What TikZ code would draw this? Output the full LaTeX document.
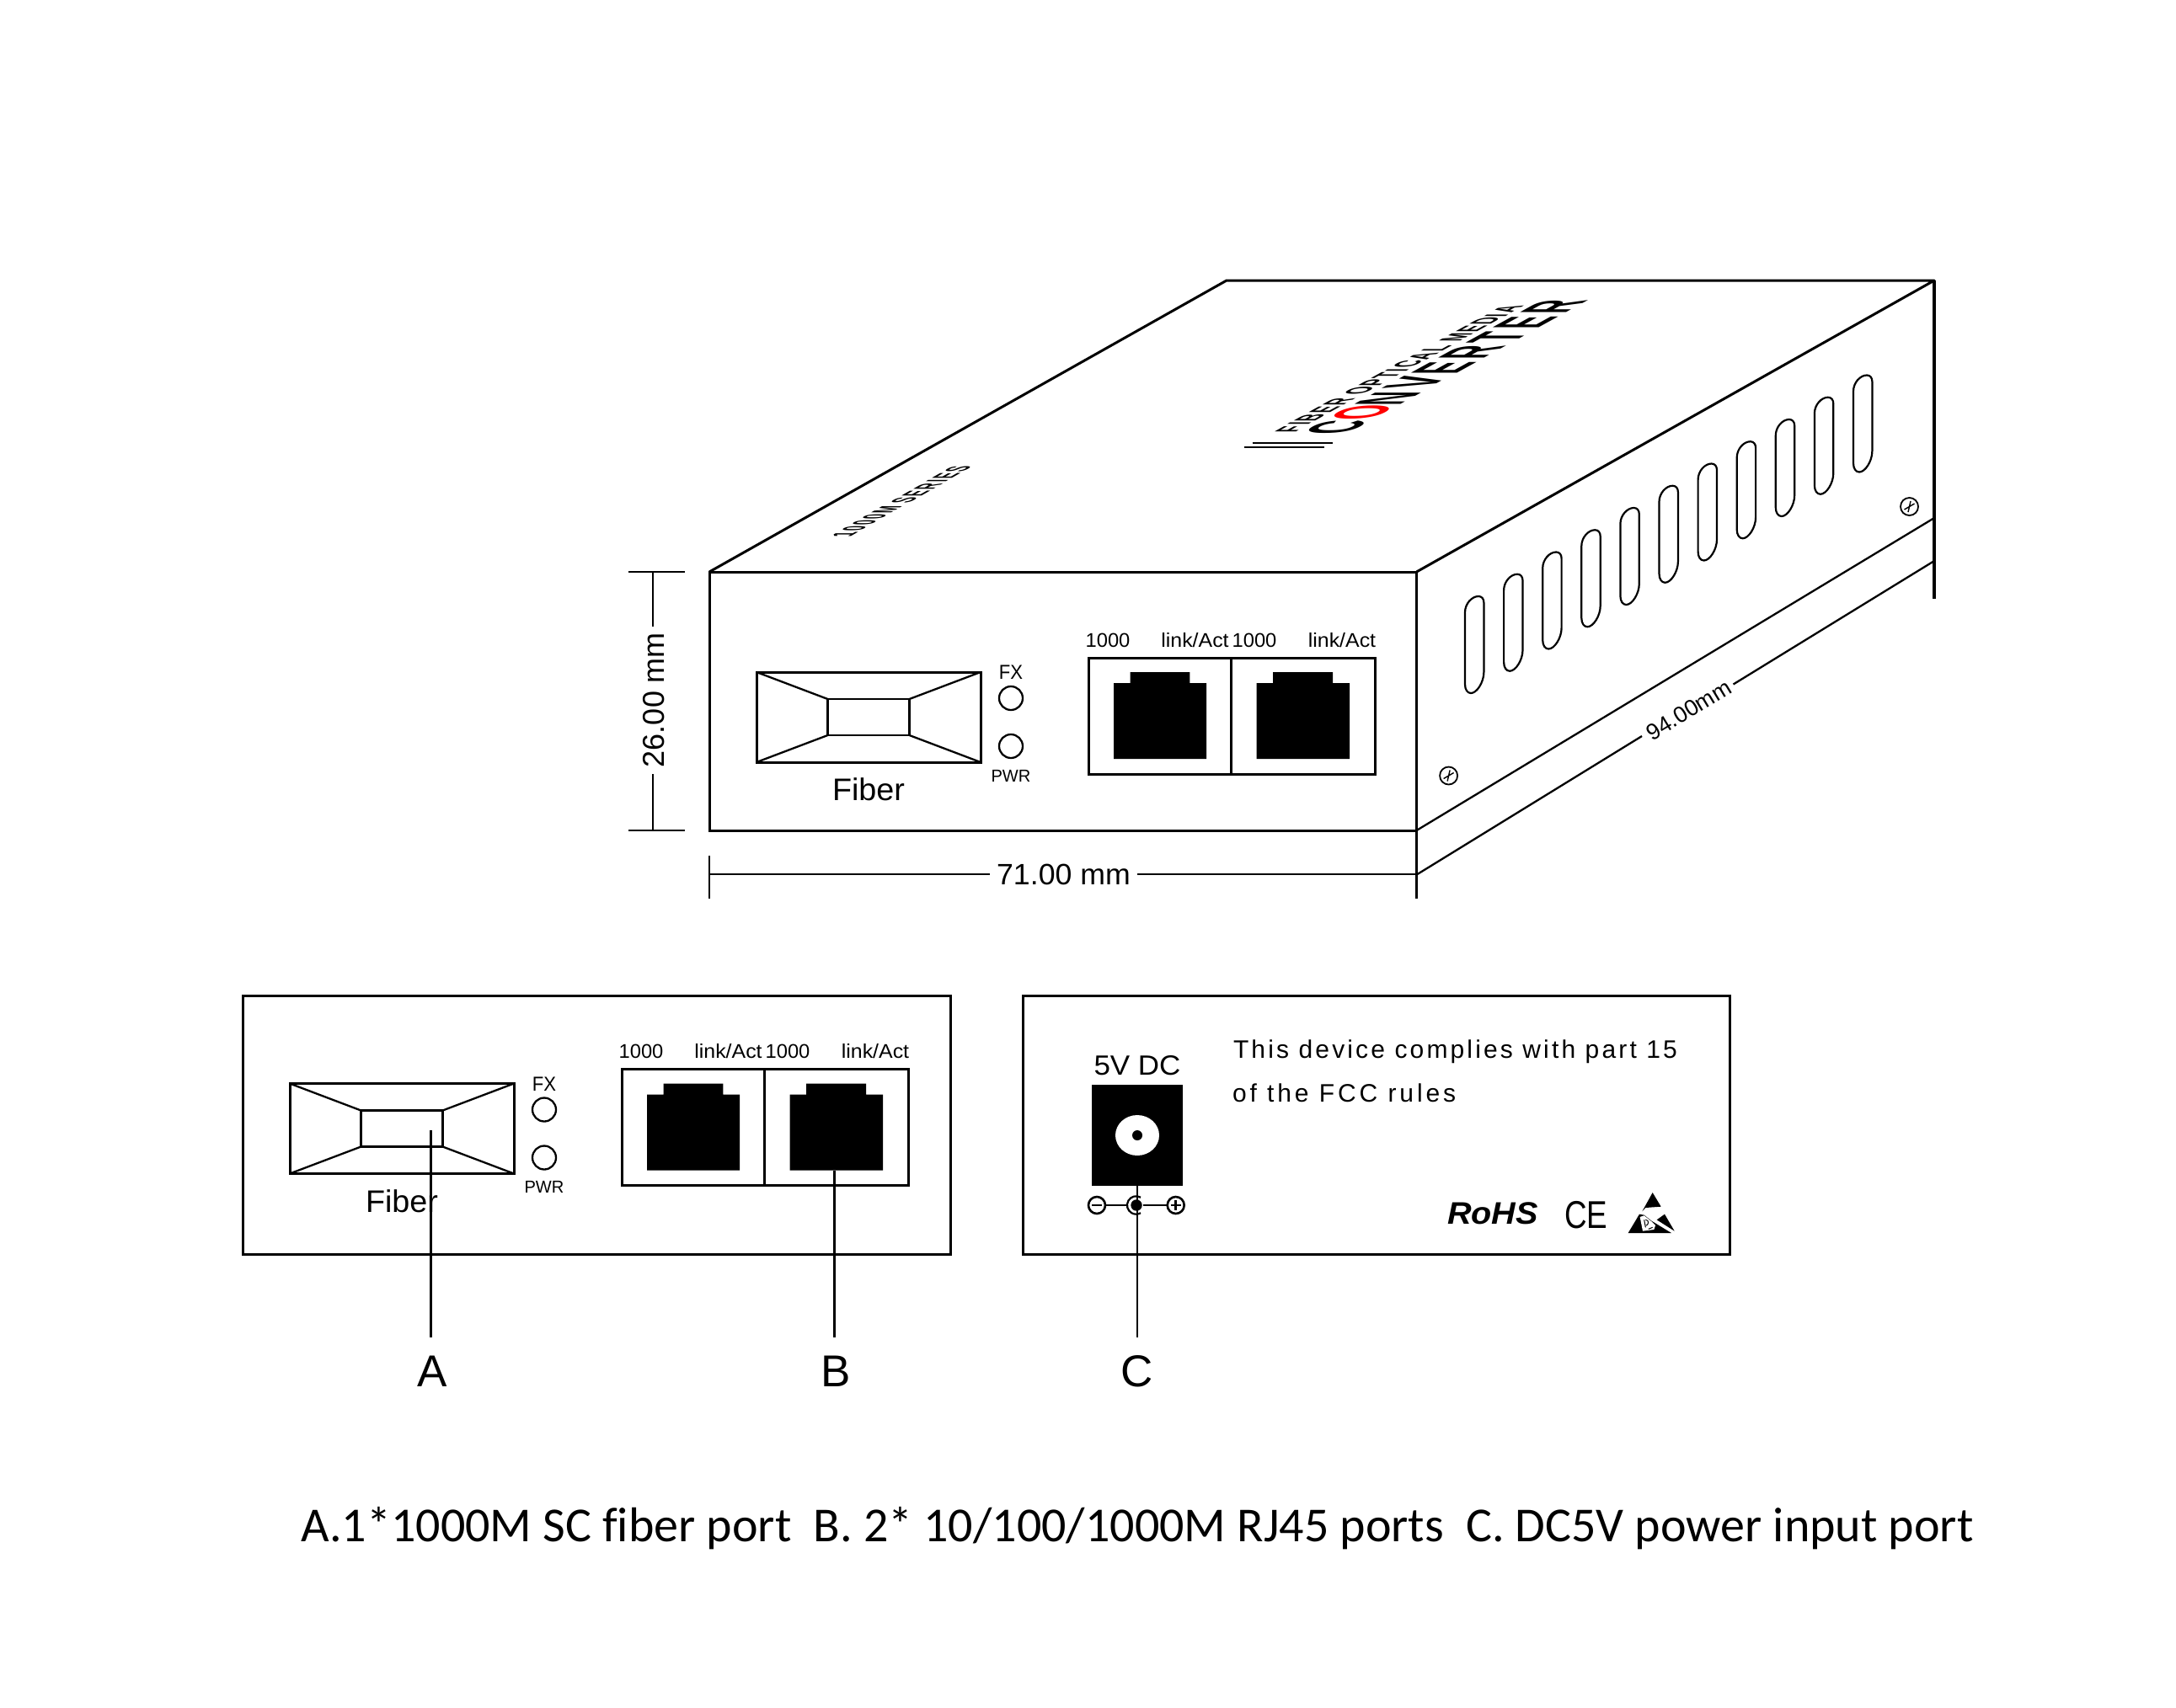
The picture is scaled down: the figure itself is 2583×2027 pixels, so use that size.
\documentclass[tikz,border=0pt]{standalone}
\usepackage{graphicx}
\usepackage{fontspec}
\setmainfont{Liberation Sans}
\newfontfamily\carlito[Ligatures=NoCommon]{Carlito}
\newcommand{\fs}[1]{\fontsize{#1}{#1}\selectfont}
\newcommand{\sx}[2]{\scalebox{#1}[1]{#2}}
\tikzset{
  edge/.style={line width=3pt,black},
  thinedge/.style={line width=2.3pt,black},
  leader/.style={line width=2.2pt,black},
  txt/.style={inner sep=0pt,outer sep=0pt,anchor=base,text=black},
  slot/.style={line width=2.2pt,black,line join=round},
}
\newcommand{\ports}[3]{% prefix, dx, dy
\begin{scope}[shift={(#2,#3)}]
  \draw[edge] (898,798) rectangle (1164,905);
  \draw[thinedge] (982.5,830) rectangle (1079.5,873);
  \draw[thinedge] (898,798) -- (982.5,830) (1164,798) -- (1079.5,830) (898,905) -- (982.5,873) (1164,905) -- (1079.5,873);
  \draw[thinedge] (1200,829) circle (14);
  \draw[thinedge] (1200,886) circle (14);
  \node[txt] (#1fx) at (1200,806.5) {\fs{24}\sx{0.92}{FX}};
  \node[txt] (#1pwr) at (1200,928) {\fs{20.5}\sx{0.98}{PWR}};
  \node[txt] (#1fiber) at (1031,950.5) {\fs{37}\sx{1.02}{Fiber}};
  \draw[edge] (1292,781) rectangle (1632,919);
  \draw[thinedge] (1461.5,781) -- (1461.5,919);
  \fill[black] (1322,901) -- (1322,811) -- (1341.6,811) -- (1341.6,798) -- (1412.4,798) -- (1412.4,811) -- (1432,811) -- (1432,901) -- cycle;
  \fill[black] (1491.5,901) -- (1491.5,811) -- (1511,811) -- (1511,798) -- (1582,798) -- (1582,811) -- (1602,811) -- (1602,901) -- cycle;
  \node[txt] (#1na) at (1315,768) {\fs{23.5}\sx{1.01}{1000}};
  \node[txt] (#1la) at (1418.5,768) {\fs{23.5}\sx{1.06}{link/Act}};
  \node[txt] (#1nb) at (1489,768) {\fs{23.5}\sx{1.01}{1000}};
  \node[txt] (#1lb) at (1593,768) {\fs{23.5}\sx{1.06}{link/Act}};
\end{scope}}
\newcommand{\screw}[2]{%
\begin{scope}[shift={(#1,#2)}]
  \draw[line width=1.8pt] (0,0) circle (10.5);
  \draw[line width=1.4pt] (-6,3.5) -- (6,-3.5) (-1.5,6.5) -- (1.5,-6.5);
\end{scope}}
\begin{document}
\begin{tikzpicture}[x=1pt,y=-1pt]
\useasboundingbox (0,0) rectangle (2583,2027);
\fill[white] (0,0) rectangle (2583,2027);

% box
\draw[edge,line join=round] (842,679) -- (1456,333) -- (2296,333) -- (1681.5,679);
\draw[line width=3.2pt] (2296,333) -- (2296,711);
\draw[edge] (842,679) rectangle (1681.5,986);
\draw[thinedge] (1681.5,986) -- (2296,615);
\draw[thinedge] (1681.5,986) -- (1681.5,1067);

% top face text
\begin{scope}[cm={0.869,0.495,-1.65,0,(1009,637)}]
  \node[txt,anchor=base west,transform shape] (series) at (0,0) {\fs{21}\bfseries\addfontfeature{LetterSpace=10}1000M SERIES};
\end{scope}
\begin{scope}[cm={0.876,0.482,-1.48,0,(1537,513)}]
  \node[txt,anchor=base west,transform shape] (fom) at (0,0) {\fs{25}\bfseries\addfontfeature{LetterSpace=8}FIBER OPTICAL MEDIA};
\end{scope}
\begin{scope}[cm={0.876,0.482,-1.69,0,(1598,515)}]
  \node[txt,anchor=base west,transform shape] (conv) at (0,0) {\fs{47}\bfseries\addfontfeature{LetterSpace=12}C\textcolor{red}{O}NVERTER};
\end{scope}
\draw[line width=2.2pt] (1486.7,525.7) -- (1581.7,525.7) (1476.7,531.3) -- (1571.7,531.3);

% slots
\foreach \i in {0,...,10} {
  \begin{scope}[shift={(1739+46.1*\i,708-26.25*\i)}]
    \draw[slot] (0,19) .. controls (0,9) and (8,0) .. (16,0) .. controls (20,0) and (22.4,3) .. (22.4,7.6) -- (22.4,90) .. controls (22.4,102) and (14,115) .. (7,115) .. controls (3,115) and (0,111) .. (0,104.5) -- cycle;
  \end{scope}
}
\screw{2266.5}{601.5}
\screw{1719.6}{921}

% dimensions
\draw[thinedge] (746,679) -- (813,679) (746,986) -- (813,986);
\coordinate (dimTop) at (775,679);
\coordinate (dimBot) at (775,986);
\node[txt,rotate=90] (dimH) at (788.7,831) {\fs{36}26.00 mm};
\draw[thinedge] (dimTop) -- (775,744) (775,919) -- (dimBot);

\draw[thinedge] (842,1016) -- (842,1067);
\node[txt] (dimW) at (1262.5,1050.7) {\fs{35}\sx{1.02}{71.00 mm}};
\draw[thinedge] (842,1038) -- (1174.5,1038) (1350,1038) -- (1681.5,1038);

\draw[thinedge] (1681.5,1038.6) -- (1949,874) (2057.5,812.5) -- (2296,666);
\node[inner sep=0pt,rotate=31.2,text=black] (dimL) at (2004.5,843) {\fs{27}94.00mm};

\ports{f}{0}{0}

% lower panels
\draw[edge] (288.8,1182.7) rectangle (1128,1489.5);
\ports{p}{-554}{488.5}
\draw[edge] (1214,1182.7) rectangle (2053.8,1489.5);

% power
\node[txt] (dc) at (1350,1276) {\fs{33}\sx{1.06}{5V DC}};
\fill[black] (1296,1288) rectangle (1404,1407.5);
\fill[white] (1350,1348) ellipse (26 and 24);
\fill[black] (1350,1348) circle (6);
\draw[line width=2.6pt] (1302,1431) circle (10);
\draw[line width=2.6pt] (1296,1431) -- (1308,1431);
\draw[line width=2.6pt] (1395.7,1431) circle (10);
\draw[line width=2.6pt] (1389.7,1431) -- (1401.7,1431) (1395.7,1425) -- (1395.7,1437);
\draw[line width=2.4pt] (1312.3,1431) -- (1338,1431) (1356.7,1431) -- (1385.7,1431);
\fill[black] (1349,1431) circle (6.7);
\draw[line width=2.2pt] (1354,1421.7) arc[start angle=-60,end angle=-300,radius=10.7];

\node[txt,anchor=base west] (fcca) at (1464,1256) {\fs{30}\addfontfeature{LetterSpace=10.5}This device complies with part 15};
\node[txt,anchor=base west] (fccb) at (1463,1308) {\fs{30}\addfontfeature{LetterSpace=13}of the FCC rules};
\node[txt] (rohs) at (1772,1453) {\fs{37}\bfseries\itshape\sx{1.07}{RoHS}};
\node[txt] (ce) at (1882.7,1458) {\fs{46}\sx{0.8}{CE}};

% ESD symbol
\begin{scope}[shift={(1910,1400)},x=0.3333pt,y=-0.3333pt]
  \fill[black] (155,48) -- (185,98) -- (130,102) -- (118,115) -- cycle;
  \fill[black] (198,125) -- (233,185) -- (170,145) -- cycle;
  \fill[black] (108,125) -- (68,192) -- (222,192) -- (150,148) -- (125,128) -- cycle;
  \fill[white] (110,135) -- (125,130) -- (150,150) -- (165,165) -- (160,180) -- (120,185) -- cycle;
  \draw[black,line width=1pt] (125,145) -- (130,172) (130,145) .. controls (145,145) and (140,165) .. (132,165) (140,178) -- (155,172);
\end{scope}

% leaders
\coordinate (aS) at (511.5,1341.7);
\coordinate (aE) at (511.5,1588);
\coordinate (bS) at (990.4,1389.5);
\coordinate (bE) at (990.4,1588);
\coordinate (cS) at (1350,1407.5);
\coordinate (cE) at (1350,1588);
\draw[leader] (aS) -- (aE);
\draw[leader] (bS) -- (bE);
\draw[leader] (cS) -- (cE);
\node[txt] (labA) at (513,1646) {\fs{53}A};
\node[txt] (labB) at (992,1646) {\fs{53}B};
\node[txt] (labC) at (1350,1646) {\fs{53}C};

\node[txt,anchor=base west] (caption) at (357.5,1830) {\fs{58}\carlito A.1*1000M SC fiber port\ \ B. 2* 10/100/1000M RJ45 ports\ \ C. DC5V power input port};
\end{tikzpicture}
\end{document}
